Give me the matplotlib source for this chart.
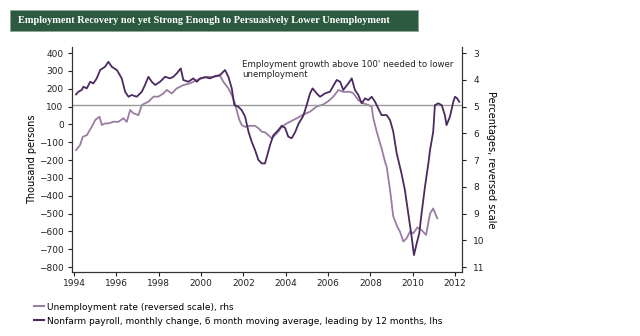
import matplotlib
matplotlib.use("Agg")
import matplotlib.pyplot as plt
from matplotlib.patches import Rectangle
from matplotlib.lines import Line2D

# Nonfarm payroll, monthly change, 6m MA, leading 12 months (lhs, thousands)
nfp_year = [1994.09, 1994.2, 1994.36, 1994.44, 1994.6, 1994.76, 1994.91, 1995.07, 1995.23, 1995.46,
            1995.62, 1995.78, 1996.02, 1996.25, 1996.41, 1996.57, 1996.72, 1996.96, 1997.2, 1997.35,
            1997.51, 1997.67, 1997.83, 1998.06, 1998.3, 1998.53, 1998.69, 1998.85, 1999.04, 1999.16,
            1999.4, 1999.63, 1999.8, 1999.95, 2000.2, 2000.42, 2000.65, 2000.9, 2001.13, 2001.29,
            2001.45, 2001.57, 2001.76, 2001.92, 2002.08, 2002.24, 2002.39, 2002.55, 2002.71, 2002.87,
            2003.02, 2003.13, 2003.26, 2003.41, 2003.65, 2003.81, 2003.97, 2004.12, 2004.28, 2004.44,
            2004.6, 2004.83, 2004.99, 2005.15, 2005.27, 2005.46, 2005.62, 2005.86, 2006.09, 2006.41,
            2006.57, 2006.72, 2006.96, 2007.12, 2007.27, 2007.43, 2007.59, 2007.75, 2007.9, 2008.06,
            2008.22, 2008.37, 2008.53, 2008.77, 2008.93, 2009.08, 2009.24, 2009.47, 2009.63, 2009.79,
            2009.95, 2010.06, 2010.19, 2010.31, 2010.42, 2010.58, 2010.74, 2010.82, 2010.97, 2011.05,
            2011.21, 2011.37, 2011.52, 2011.6, 2011.76, 2011.92, 2012.0, 2012.1, 2012.2]
nfp_value = [168, 183, 193, 211, 202, 239, 230, 258, 305, 323,
             351, 323, 305, 258, 183, 155, 165, 155, 183, 221,
             267, 239, 221, 239, 267, 258, 267, 286, 314, 249,
             239, 258, 239, 258, 265, 258, 270, 277, 305, 267,
             202, 108, 99, 80, 43, -41, -97, -144, -200, -219,
             -219, -172, -116, -62, -32, -8, -20, -69, -78, -45,
             2, 48, 108, 174, 202, 174, 155, 174, 183, 249,
             239, 193, 230, 258, 193, 165, 118, 146, 136, 155,
             127, 90, 52, 52, 24, -40, -160, -275, -368, -499,
             -630, -733, -667, -611, -499, -350, -219, -144, -41, 108,
             118, 108, 52, -4, 43, 127, 155, 146, 127]

# Unemployment rate (rhs, percent, reversed scale)
ur_year = [1994.09, 1994.28, 1994.41, 1994.6, 1994.83, 1995.0, 1995.2, 1995.31, 1995.46, 1995.62,
           1995.86, 1996.09, 1996.33, 1996.49, 1996.65, 1996.8, 1997.04, 1997.2, 1997.35, 1997.51,
           1997.75, 1997.98, 1998.22, 1998.38, 1998.61, 1998.85, 1999.16, 1999.48, 1999.8, 2000.03,
           2000.27, 2000.58, 2000.9, 2001.05, 2001.29, 2001.45, 2001.6, 2001.68, 2001.81, 2001.92,
           2002.08, 2002.31, 2002.55, 2002.71, 2002.87, 2003.02, 2003.18, 2003.34, 2003.49, 2003.65,
           2003.81, 2004.05, 2004.2, 2004.52, 2004.83, 2005.15, 2005.46, 2005.78, 2006.01, 2006.25,
           2006.49, 2006.72, 2007.04, 2007.2, 2007.43, 2007.67, 2007.9, 2008.06, 2008.14, 2008.3,
           2008.53, 2008.69, 2008.77, 2008.93, 2009.08, 2009.27, 2009.4, 2009.56, 2009.71, 2009.87,
           2010.03, 2010.22, 2010.42, 2010.63, 2010.82, 2010.97, 2011.16]
ur_value = [6.63, 6.44, 6.13, 6.07, 5.76, 5.50, 5.38, 5.69, 5.63, 5.63,
            5.57, 5.57, 5.44, 5.57, 5.13, 5.25, 5.32, 4.94, 4.88, 4.82,
            4.63, 4.63, 4.51, 4.38, 4.51, 4.32, 4.20, 4.13, 4.01, 3.95,
            3.89, 3.89, 3.85, 4.07, 4.32, 4.57, 4.88, 5.13, 5.50, 5.69,
            5.76, 5.72, 5.72, 5.81, 5.94, 5.96, 6.07, 6.19, 6.07, 5.94,
            5.76, 5.63, 5.57, 5.44, 5.30, 5.19, 5.00, 4.92, 4.80, 4.63,
            4.38, 4.45, 4.45, 4.51, 4.76, 4.88, 4.94, 5.00, 5.44, 5.94,
            6.56, 7.06, 7.25, 8.12, 9.10, 9.49, 9.68, 10.05, 9.93, 9.68,
            9.74, 9.52, 9.62, 9.80, 9.00, 8.81, 9.18]

threshold = 108
years_ticks = list(range(1994, 2013, 2))
left_ticks = list(range(-800, 401, 100))
right_ticks = list(range(3, 12))

dark = "#4a2a60"
light = "#9b7ca3"
green = "#2c5a3e"

fig = plt.figure(figsize=(6.4, 3.36), dpi=100)
fig.patch.set_facecolor("white")

# title box
fig.patches.append(Rectangle((10/640, 1-31/336), 408/640, 21/336, transform=fig.transFigure,
                             facecolor=green, edgecolor="#8aa596", lw=0.6))
fig.text(18/640, 1-20.5/336, "Employment Recovery not yet Strong Enough to Persuasively Lower Unemployment",
         family="Liberation Serif", weight="bold", color="white", fontsize=7.35, va="center", ha="left")

ax = fig.add_axes([72/640, 1-272/336, 390/640, 225/336])
ylo, yhi = -828, 434
ax.set_ylim(ylo, yhi)
ax.set_xlim(1993.9, 2012.33)
ax.axhline(threshold, color="#9a9a9a", lw=1.0, zorder=1)
ax.plot(nfp_year, nfp_value, color=dark, lw=1.3, zorder=3)

ax2 = ax.twinx()
ax2.set_ylim(3 + (400 - ylo) / 150, 3 + (400 - yhi) / 150)
ax2.plot(ur_year, ur_value, color=light, lw=1.3, zorder=2)
ax.set_zorder(ax2.get_zorder() + 1)
ax.patch.set_visible(False)

ax.set_yticks(left_ticks)
ax.set_xticks(years_ticks)
ax2.set_yticks(right_ticks)
for a in (ax, ax2):
    a.tick_params(labelsize=6.5, length=3, width=0.8, colors="#222222", pad=2)
    a.spines["top"].set_visible(False)
    for s in a.spines.values():
        s.set_linewidth(0.8)
        s.set_color("#333333")
ax.tick_params(axis="y", pad=3)
ax2.tick_params(axis="y", pad=5)

ax.set_ylabel("Thousand persons", fontsize=7, labelpad=1)
ax2.set_ylabel("Percentages, reversed scale", fontsize=7, rotation=270, labelpad=8)

ax.text(2001.95, 362, "Employment growth above 100' needed to lower\nunemployment",
        fontsize=6.2, va="top", ha="left", color="#222222", linespacing=1.1)

handles = [Line2D([], [], color=light, lw=1.5), Line2D([], [], color=dark, lw=1.5)]
labels = ["Unemployment rate (reversed scale), rhs",
          "Nonfarm payroll, monthly change, 6 month moving average, leading by 12 months, lhs"]
fig.legend(handles, labels, loc="upper left", bbox_to_anchor=(30/640, 1-299/336), frameon=False,
           fontsize=6.5, handlelength=1.2, handletextpad=0.3, labelspacing=0.55, borderaxespad=0)

fig.savefig("out.png", dpi=100, facecolor="white")
